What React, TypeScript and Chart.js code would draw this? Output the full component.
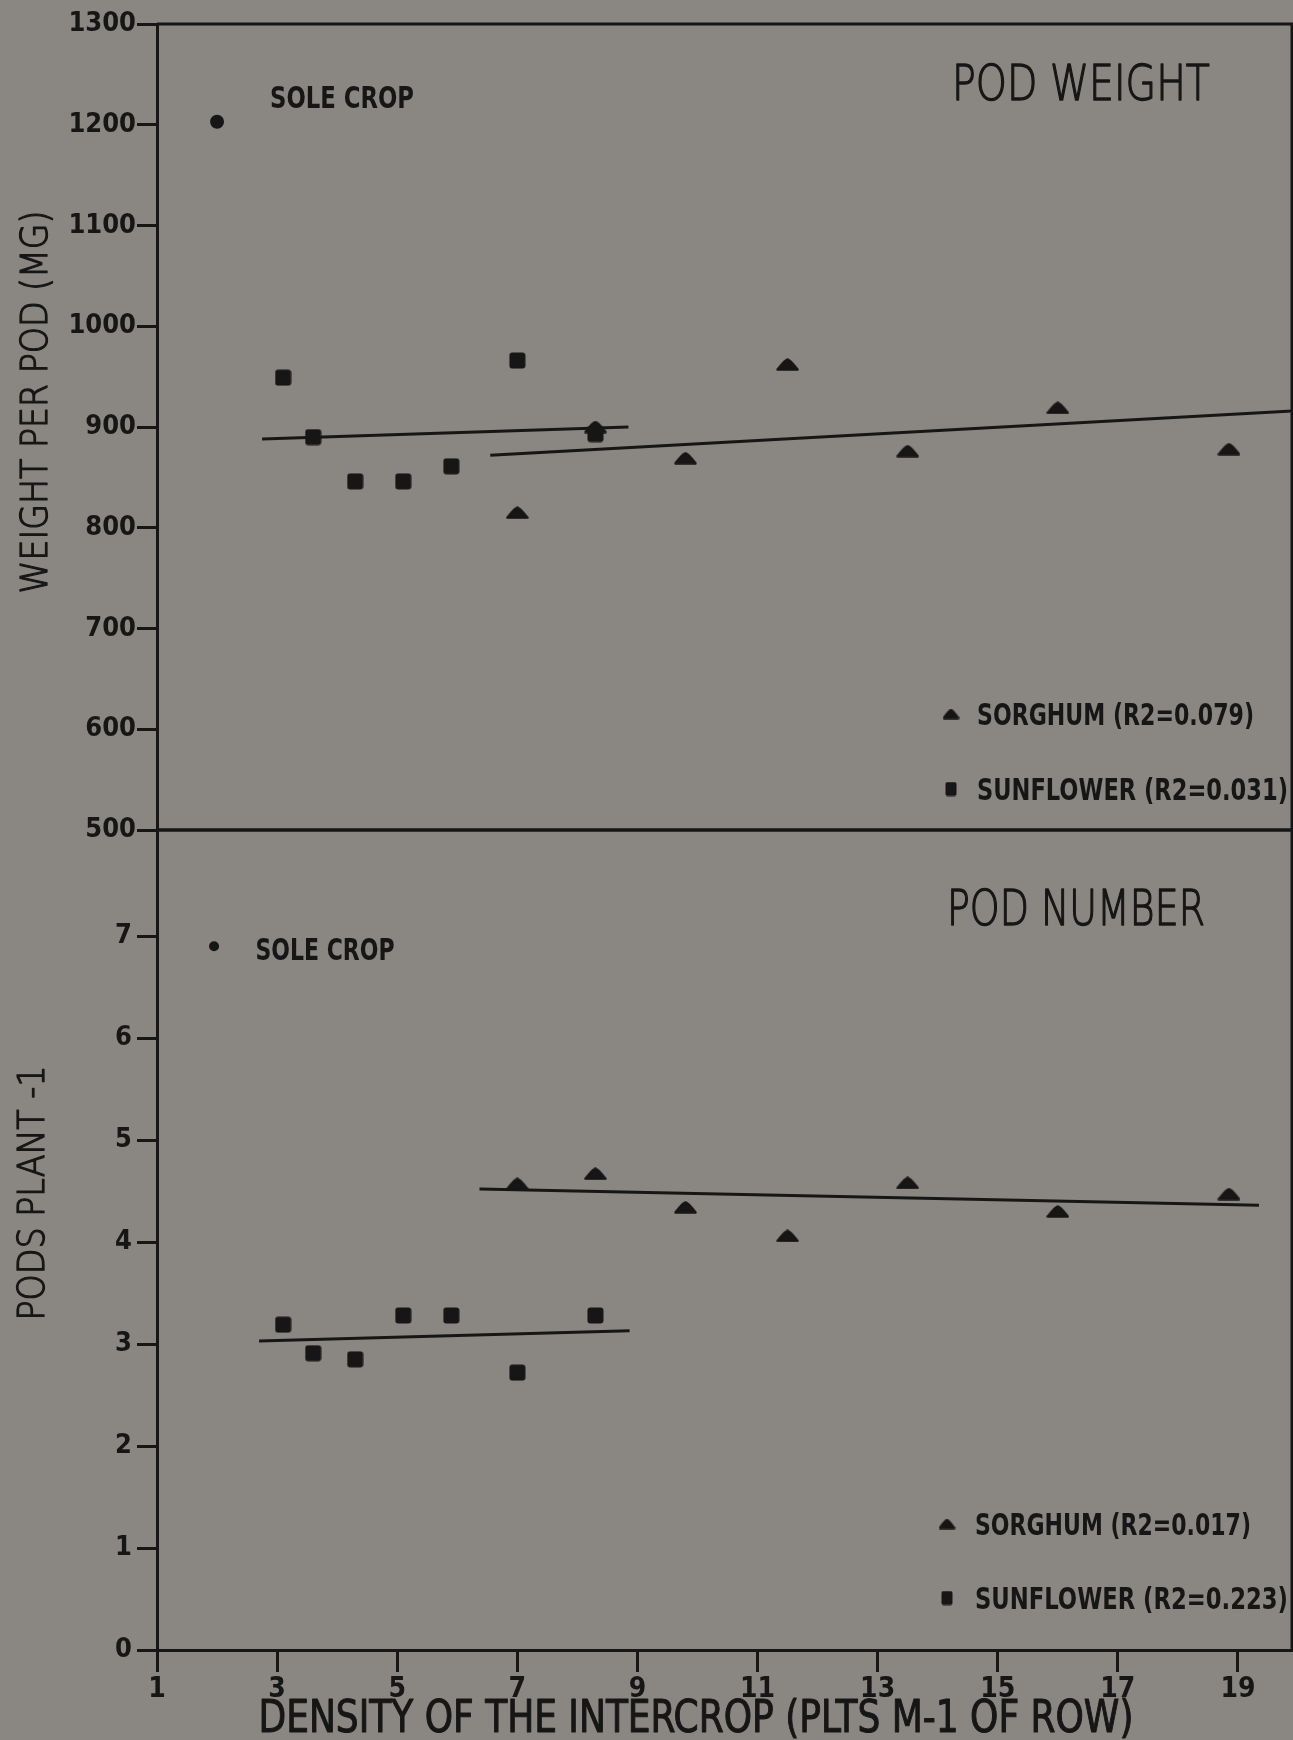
import React, { useEffect, useRef } from 'react';
import { Chart, registerables } from 'chart.js';
Chart.register(...registerables);

// ---------------- data ----------------
const xTickValues = [1, 3, 5, 7, 9, 11, 13, 15, 17, 19];
const weightTickValues = [500, 600, 700, 800, 900, 1000, 1100, 1200, 1300];
const podTickValues = [0, 1, 2, 3, 4, 5, 6, 7];

const soleCropWeightX = [2.0];
const soleCropWeight = [1203];
const soleCropPodsX = [1.95];
const soleCropPods = [6.9];

const sunflowerX = [3.1, 3.6, 4.3, 5.1, 5.9, 7.0, 8.3];
const sunflowerWeight = [949, 890, 846, 846, 861, 966, 893];
const sunflowerPods = [3.19, 2.91, 2.85, 3.28, 3.28, 2.72, 3.28];

const sorghumX = [7.0, 8.3, 9.8, 11.5, 13.5, 16.0, 18.85];
const sorghumWeight = [815, 900, 869, 962, 876, 919, 878];
const sorghumPods = [4.57, 4.67, 4.34, 4.06, 4.58, 4.3, 4.47];

// fitted regression lines (end points as drawn)
const sunflowerWeightFitX = [2.75, 8.85];
const sunflowerWeightFitY = [888, 900];
const sorghumWeightFitX = [6.55, 19.9];
const sorghumWeightFitY = [872, 916];
const sunflowerPodsFitX = [2.7, 8.87];
const sunflowerPodsFitY = [3.03, 3.13];
const sorghumPodsFitX = [6.37, 19.35];
const sorghumPodsFitY = [4.52, 4.36];

const X_MIN = 1;
const X_MAX = 19.9;

// ---------------- styles ----------------
const INK = '#161616';
const BG = '#8a8782';
const NARROW = '"Liberation Sans Narrow", "DejaVu Sans Condensed", "Arial Narrow", sans-serif';
const THIN = '"DejaVu Sans", "Liberation Sans", sans-serif';

type TextSpec = {
  text: string; x: number; y: number; w: number; size: number;
  weight: string; family: string; rotate?: boolean; align?: 'left' | 'center'; stroke?: number;
};
type MarkSpec = { img: HTMLCanvasElement; x: number; y: number };

function pts(xs: number[], ys: number[]) {
  return xs.map((x, i) => ({ x, y: ys[i] }));
}

function makeTriangle(w: number, h: number) {
  const c = document.createElement('canvas');
  c.width = w; c.height = h;
  const g = c.getContext('2d')!;
  g.fillStyle = INK; g.strokeStyle = INK; g.lineJoin = 'round'; g.lineWidth = 2.5;
  g.beginPath();
  g.moveTo(1.5, h - 1.5);
  g.quadraticCurveTo(w * 0.42, 1.2, w / 2, 1.5);
  g.quadraticCurveTo(w * 0.58, 1.2, w - 1.5, h - 1.5);
  g.closePath();
  g.fill(); g.stroke();
  return c;
}

function makeSquare(w: number, h: number, r: number) {
  const c = document.createElement('canvas');
  c.width = w; c.height = h;
  const g = c.getContext('2d')!;
  g.fillStyle = INK;
  g.beginPath();
  (g as any).roundRect(0.5, 0.5, w - 1, h - 1, r);
  g.fill();
  return c;
}

function drawFit(ctx: CanvasRenderingContext2D, t: TextSpec, offY: number) {
  ctx.save();
  ctx.font = `${t.weight} ${t.size}px ${t.family}`;
  ctx.fillStyle = INK;
  ctx.strokeStyle = INK;
  const m = ctx.measureText(t.text).width;
  const sx = t.w / m;
  ctx.translate(t.x, t.y - offY);
  if (t.rotate) ctx.rotate(-Math.PI / 2);
  ctx.scale(sx, 1);
  ctx.textBaseline = 'alphabetic';
  ctx.textAlign = t.align === 'left' ? 'left' : 'center';
  ctx.fillText(t.text, 0, t.size * 0.36);
  if (t.stroke) {
    ctx.lineWidth = t.stroke;
    ctx.lineJoin = 'round';
    ctx.strokeText(t.text, 0, t.size * 0.36);
  }
  ctx.restore();
}

function makeDecor(id: string, offY: number, texts: TextSpec[], marks: MarkSpec[], frameBottom: boolean) {
  return {
    id,
    afterDraw(chart: any) {
      const ctx: CanvasRenderingContext2D = chart.ctx;
      const a = chart.chartArea;
      ctx.save();
      ctx.strokeStyle = INK;
      ctx.lineWidth = 3;
      ctx.beginPath();
      ctx.moveTo(a.left, a.top);
      ctx.lineTo(chart.width, a.top);
      ctx.moveTo(a.right, a.top);
      ctx.lineTo(a.right, a.bottom);
      if (frameBottom) {
        ctx.moveTo(a.left - 1, a.bottom);
        ctx.lineTo(a.right, a.bottom);
      }
      ctx.stroke();
      ctx.restore();
      texts.forEach((t) => drawFit(ctx, t, offY));
      marks.forEach((m) => {
        ctx.drawImage(m.img, m.x - m.img.width / 2, m.y - offY - m.img.height / 2);
      });
    },
  };
}

function yAxis(min: number, max: number, values: number[], pad: number) {
  return {
    type: 'linear' as const,
    position: 'left' as const,
    min,
    max,
    afterBuildTicks: (s: any) => { s.ticks = values.map((v) => ({ value: v })); },
    afterFit: (s: any) => { s.width = 157; },
    ticks: {
      color: INK,
      padding: pad,
      font: { family: NARROW, size: 27, weight: 'bold' as const },
      callback: (v: any) => String(v),
    },
    grid: {
      drawOnChartArea: false,
      drawTicks: true,
      tickLength: 20,
      tickWidth: 3,
      tickColor: INK,
    },
    border: { display: true, color: INK, width: 3 },
  };
}

export default function App() {
  const ref1 = useRef<HTMLCanvasElement>(null);
  const ref2 = useRef<HTMLCanvasElement>(null);

  useEffect(() => {
    const tri = makeTriangle(23, 13);
    const sq = makeSquare(17, 17, 3);
    const triLeg = makeTriangle(17, 11);
    const sqLeg = makeSquare(12, 15, 2);

    const lineDs = (xs: number[], ys: number[], label: string) => ({
      label,
      data: pts(xs, ys),
      showLine: true,
      borderColor: INK,
      borderWidth: 3,
      pointRadius: 0,
      tension: 0,
    });

    const top = new Chart(ref1.current!, {
      type: 'scatter',
      data: {
        datasets: [
          { label: 'Sole crop', data: pts(soleCropWeightX, soleCropWeight), pointStyle: 'circle', pointRadius: 7, backgroundColor: INK, borderWidth: 0 },
          { label: 'Sunflower', data: pts(sunflowerX, sunflowerWeight), pointStyle: sq, pointRadius: 8 },
          { label: 'Sorghum', data: pts(sorghumX, sorghumWeight), pointStyle: tri, pointRadius: 8 },
          lineDs(sunflowerWeightFitX, sunflowerWeightFitY, 'Sunflower fit'),
          lineDs(sorghumWeightFitX, sorghumWeightFitY, 'Sorghum fit'),
        ] as any,
      },
      options: {
        responsive: false,
        animation: false,
        events: [],
        layout: { autoPadding: false, padding: { top: 24, right: 1, bottom: 20, left: 0 } },
        plugins: { legend: { display: false }, tooltip: { enabled: false } },
        scales: {
          x: { type: 'linear', min: X_MIN, max: X_MAX, display: false },
          y: yAxis(500, 1300, weightTickValues, 1) as any,
        },
      },
      plugins: [
        makeDecor('decorTop', 0, [
          { text: 'SOLE CROP', x: 342, y: 97, w: 144, size: 30, weight: 'bold', family: NARROW },
          { text: 'POD WEIGHT', x: 1081, y: 82, w: 258, size: 50, weight: '200', family: THIN, stroke: 1.4 },
          { text: 'SORGHUM (R2=0.079)', x: 977, y: 714, w: 277, size: 31, weight: 'bold', family: NARROW, align: 'left' },
          { text: 'SUNFLOWER (R2=0.031)', x: 977, y: 789, w: 311, size: 31, weight: 'bold', family: NARROW, align: 'left' },
          { text: 'WEIGHT PER POD (MG)', x: 33, y: 402, w: 383, size: 38, weight: '200', family: THIN, rotate: true, stroke: 1.3 },
        ], [
          { img: triLeg, x: 951, y: 714 },
          { img: sqLeg, x: 951, y: 789 },
        ], true) as any,
      ],
    });

    const bottom = new Chart(ref2.current!, {
      type: 'scatter',
      data: {
        datasets: [
          { label: 'Sole crop', data: pts(soleCropPodsX, soleCropPods), pointStyle: 'circle', pointRadius: 5, backgroundColor: INK, borderWidth: 0 },
          { label: 'Sunflower', data: pts(sunflowerX, sunflowerPods), pointStyle: sq, pointRadius: 8 },
          { label: 'Sorghum', data: pts(sorghumX, sorghumPods), pointStyle: tri, pointRadius: 8 },
          lineDs(sunflowerPodsFitX, sunflowerPodsFitY, 'Sunflower fit'),
          lineDs(sorghumPodsFitX, sorghumPodsFitY, 'Sorghum fit'),
        ] as any,
      },
      options: {
        responsive: false,
        animation: false,
        events: [],
        layout: { autoPadding: false, padding: { top: 30, right: 1, bottom: 0, left: 0 } },
        plugins: { legend: { display: false }, tooltip: { enabled: false } },
        scales: {
          x: {
            type: 'linear',
            position: 'bottom',
            min: X_MIN,
            max: X_MAX,
            afterBuildTicks: (s: any) => { s.ticks = xTickValues.map((v) => ({ value: v })); },
            afterFit: (s: any) => { s.height = 90; },
            ticks: {
              color: INK,
              padding: 1,
              maxRotation: 0,
              autoSkip: false,
              font: { family: NARROW, size: 28, weight: 'bold' },
              callback: (v: any) => String(v),
            },
            grid: { drawOnChartArea: false, drawTicks: true, tickLength: 22, tickWidth: 3, tickColor: INK },
            border: { display: true, color: INK, width: 3 },
          } as any,
          y: yAxis(0, 8.04, podTickValues, 5) as any,
        },
      },
      plugins: [
        makeDecor('decorBottom', 800, [
          { text: 'SOLE CROP', x: 325, y: 949, w: 139, size: 30, weight: 'bold', family: NARROW },
          { text: 'POD NUMBER', x: 1076, y: 907, w: 258, size: 50, weight: '200', family: THIN, stroke: 1.4 },
          { text: 'SORGHUM (R2=0.017)', x: 975, y: 1524, w: 276, size: 31, weight: 'bold', family: NARROW, align: 'left' },
          { text: 'SUNFLOWER (R2=0.223)', x: 975, y: 1598, w: 313, size: 31, weight: 'bold', family: NARROW, align: 'left' },
          { text: 'PODS PLANT -1', x: 30, y: 1193, w: 255, size: 38, weight: '200', family: THIN, rotate: true, stroke: 1.3 },
          { text: 'DENSITY OF THE INTERCROP (PLTS M-1 OF ROW)', x: 696, y: 1716, w: 875, size: 44, weight: 'normal', family: NARROW, stroke: 1 },
        ], [
          { img: triLeg, x: 947, y: 1524 },
          { img: sqLeg, x: 947, y: 1598 },
        ], false) as any,
      ],
    });

    return () => {
      top.destroy();
      bottom.destroy();
    };
  }, []);

  return (
    <div style={{ position: 'absolute', left: 0, top: 0, width: 1293, height: 1740, background: BG, overflow: 'hidden' }}>
      <canvas ref={ref1} width={1293} height={850} style={{ position: 'absolute', left: 0, top: 0, display: 'block' }} />
      <canvas ref={ref2} width={1293} height={940} style={{ position: 'absolute', left: 0, top: 800, display: 'block' }} />
    </div>
  );
}
